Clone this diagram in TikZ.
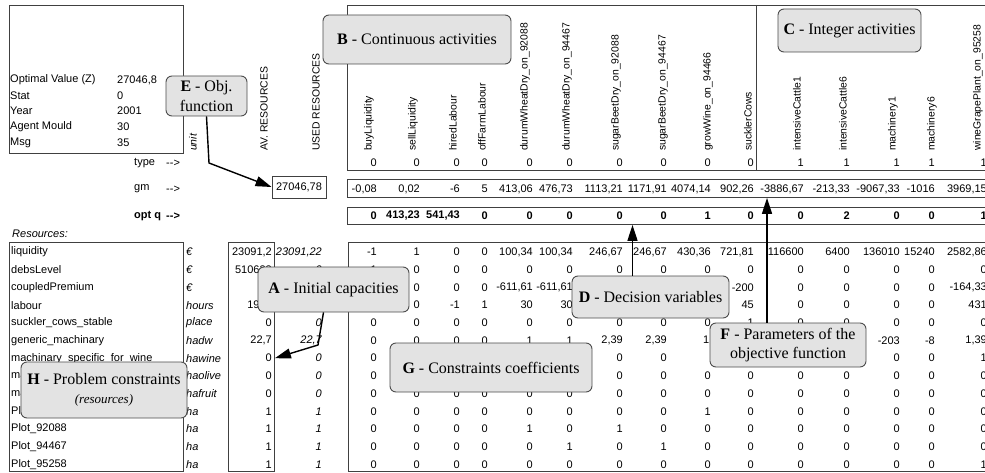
\documentclass[tikz,border=0pt]{standalone}
\usepackage{fontspec}
\setmainfont{Liberation Serif}
\setsansfont{Liberation Sans}
\usetikzlibrary{positioning, arrows.meta}

\newcommand{\tblfont}{\sffamily\fontsize{11}{13}\selectfont}
\newcommand{\hdfont}{\sffamily\fontsize{10.4}{12}\selectfont}
\newcommand{\arrowtxt}{-\kern0pt-\kern0pt>}

\begin{document}
\begin{tikzpicture}[
    x=1pt, y=-1pt,
    cell/.style={inner sep=0pt, font=\tblfont},
    val/.style={cell, anchor=east},
    txt/.style={cell, anchor=west},
    colhead/.style={inner sep=0pt, anchor=west, rotate=90, font=\hdfont},
    tbox/.style={draw=black!75, line width=0.9pt},
    callout/.style={draw=black!70, fill=black!11, rounded corners=6pt, line width=0.9pt,
        align=center, inner sep=2pt, font=\fontsize{16}{19.5}\selectfont},
    pointer/.style={line width=1.4pt, -{Triangle[length=16pt, width=10pt]}},
]
\useasboundingbox (0,0) rectangle (985,473);
\fill[white] (0,0) rectangle (985,473);

% Model summary
\draw[tbox] (9,5) rectangle (183,153);
\foreach \key/\res/\yy [count=\i] in {Optimal Value (Z)/{27046,8}/80, Stat/0/96,
    Year/2001/111, Agent Mould/30/127, Msg/35/143} {
  \node[txt] (info-\i) at (10,\yy) {\key};
  \node[txt] (infoval-\i) at (117,\yy) {\res};
}

% Row captions
\node[txt] (typelbl) at (134,163) {type};
\node[txt] (typearr) at (166,163) {\arrowtxt};
\node[txt] (gmlbl) at (134,189) {gm};
\node[txt] (gmarr) at (166,189) {\arrowtxt};
\node[txt, font=\tblfont\bfseries] (optlbl) at (134,216) {opt q};
\node[txt, font=\tblfont\bfseries] (optarr) at (166,216) {\arrowtxt};
\node[txt, font=\tblfont\itshape] (reslbl) at (12,234) {Resources:};

% Column captions on the left
\node[colhead, font=\hdfont\itshape] (unithd) at (193,151) {unit};
\node[colhead] (avhd) at (264,151) {AV. RESOURCES};
\node[colhead] (usedhd) at (316,151) {USED RESOURCES};

% Objective value
\node[tbox, cell, minimum width=54pt, minimum height=22pt] (zbox) at (299,187) {27046,78};

% Activities header
\draw[tbox] (347,5) rectangle (995,170);
\draw[tbox] (756,5) -- (756,170);
\foreach \xr [count=\c] in {377,420,460,488,533,573,623,667,711,754,804,850,900,935,987}
  \coordinate (col-\c) at (\xr,0);
\foreach \lbl/\lx [count=\c] in {buyLiquidity/369, sellLiquidity/413, hiredLabour/453,
    offFarmLabour/482, durumWheatDry\_on\_92088/525, durumWheatDry\_on\_94467/567,
    sugarBeetDry\_on\_92088/616, sugarBeetDry\_on\_94467/663, growWine\_on\_94466/708,
    sucklerCows/748, intensiveCattle1/797, intensiveCattle6/843, machinery1/893,
    machinery6/932, wineGrapePlant\_on\_95258/978}
  \node[colhead] (hd-\c) at (\lx,151) {\lbl};
\foreach \v [count=\c] in {0,0,0,0,0,0,0,0,0,0,1,1,1,1,1}
  \node[val] (ty-\c) at (col-\c |- typelbl) {\v};

% gm and opt q rows
\node[tbox, inner sep=0pt, anchor=north west, minimum width=648pt, minimum height=18pt] (gmbox) at (347,179) {};
\foreach \v [count=\c] in {{-0,08},{0,02},-6,5,{413,06},{476,73},{1113,21},{1171,91},
    {4074,14},{902,26},{-3886,67},{-213,33},{-9067,33},-1016,{3969,15}}
  \node[val] (gm-\c) at (col-\c |- gmlbl) {\v};
\node[tbox, inner sep=0pt, anchor=north west, minimum width=648pt, minimum height=17pt] (optbox) at (347,207) {};
\foreach \v [count=\c] in {0,{413,23},{541,43},0,0,0,0,0,1,0,0,2,0,0,1}
  \node[val, font=\tblfont\bfseries] (opt-\c) at (col-\c |- optlbl) {\v};

% Resources
\draw[tbox] (9,242) rectangle (183,471);
\node[tbox, inner sep=0pt, anchor=north west, minimum width=46pt, minimum height=229pt] (avbox) at (228,242) {};
\draw[tbox] (348,242) rectangle (995,471);
\foreach \r in {1,...,13}
  \coordinate (rw-\r) at (0,{252+17.7*(\r-1)});
\foreach \nm/\un/\av/\us [count=\r] in {liquidity/€/{23091,2}/{23091,22}, debsLevel/€/510633/0,
    coupledPremium/€/0/0, labour/hours/1920/0, suckler\_cows\_stable/place/0/0,
    generic\_machinary/hadw/{22,7}/{22,7}, machinary\_specific\_for\_wine/hawine/0/0,
    machinary\_specific\_for\_olive/haolive/0/0, machinary\_specific\_for\_fruit/hafruit/0/0,
    Plot\_94466/ha/1/1, Plot\_92088/ha/1/1, Plot\_94467/ha/1/1, Plot\_95258/ha/1/1} {
  \node[txt] (nm-\r) at ([xshift=11pt]rw-\r) {\nm};
  \node[txt, font=\tblfont\itshape] (un-\r) at ([xshift=186pt]rw-\r) {\un};
  \node[val] (av-\r) at ([xshift=272pt]rw-\r) {\av};
  \node[val, font=\tblfont\itshape] (us-\r) at ([xshift=322pt]rw-\r) {\us};
}

% Constraint matrix
\foreach \vals [count=\r] in {
    {-1,1,0,0,{100,34},{100,34},{246,67},{246,67},{430,36},{721,81},116600,6400,136010,15240,{2582,86}},
    {1,0,0,0,0,0,0,0,0,0,0,0,0,0,0},
    {{},0,0,0,{-611,61},{-611,61},{},{},{},-200,0,0,0,0,{-164,33}},
    {{},0,-1,1,30,30,{},{},{},45,0,0,0,0,431},
    {0,0,0,0,0,0,0,0,0,1,0,0,0,0,0},
    {0,0,0,0,1,1,{2,39},{2,39},{},{},{},{},-203,-8,{1,39}},
    {0,{},{},{},{},{},0,0,{},{},{},{},0,0,1},
    {0,{},{},{},{},{},0,0,0,0,0,0,0,0,0},
    {0,0,0,0,0,0,0,0,0,0,0,0,0,0,0},
    {0,0,0,0,0,0,0,0,1,0,0,0,0,0,0},
    {0,0,0,0,1,0,1,0,0,0,0,0,0,0,0},
    {0,0,0,0,0,1,0,1,0,0,0,0,0,0,0},
    {0,0,0,0,0,0,0,0,0,0,0,0,0,0,1}} {
  \foreach \v [count=\c] in \vals
    \node[val] (m-\r-\c) at (col-\c |- rw-\r) {\v};
}
\node[txt] (m-6-9x) at (703,0 |- rw-6) {1,39};

% Callouts
\node[callout, minimum width=188pt, minimum height=49pt] (calloutB) at (417,39.5) {\textbf{B} - Continuous activities};
\node[callout, minimum width=143pt, minimum height=43pt] (calloutC) at (849.5,30.5) {\textbf{C} - Integer activities};
\node[callout, minimum width=81pt, minimum height=40pt] (calloutE) at (206.5,96) {\textbf{E} - Obj.\\function};
\node[callout, minimum width=151pt, minimum height=45pt] (calloutA) at (333.5,289.5) {\textbf{A} - Initial capacities};
\node[callout, minimum width=157pt, minimum height=42pt] (calloutD) at (650.5,297) {\textbf{D} - Decision variables};
\node[callout, minimum width=156pt, minimum height=44pt] (calloutF) at (788,345) {\textbf{F} - Parameters of the\\objective function};
\node[callout, minimum width=202pt, minimum height=49pt] (calloutG) at (491,367.5) {\textbf{G} - Constraints coefficients};
\node[callout, minimum width=166pt, minimum height=56pt] (calloutH) at (104,390) {\textbf{H} - Problem constraints\\{\fontsize{13}{15}\selectfont\itshape (resources)}};

% Pointers
\coordinate (ebend) at (209,163);
\coordinate (abend) at (318,345);
\draw[pointer] (calloutE.south) -- (ebend) -- (zbox.west);
\draw[pointer] ([xshift=-10pt]calloutA.south) -- (abend) -- (avbox.east |- av-7);
\draw[pointer] ([xshift=-18pt]calloutD.north) coordinate (dfoot) -- (dfoot |- optbox.south);
\draw[pointer] ([xshift=-21pt]calloutF.north) coordinate (ffoot) -- (ffoot |- gmbox.south);
\end{tikzpicture}
\end{document}
